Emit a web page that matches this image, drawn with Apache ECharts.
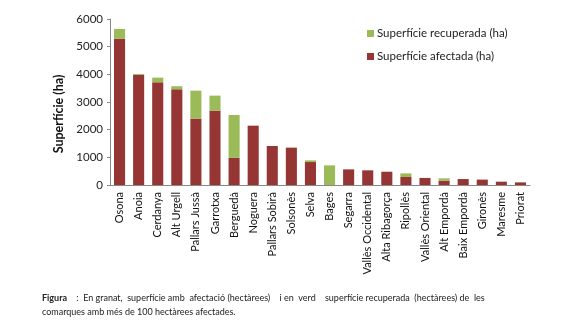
<!DOCTYPE html>
<html><head><meta charset="utf-8">
<script src="https://cdn.jsdelivr.net/npm/echarts@6/dist/echarts.min.js"></script>
<style>html,body{margin:0;padding:0;background:#fff}#c{width:580px;height:330px}</style>
</head><body><div id="c"></div>
<script>
const categories = ["Osona","Anoia","Cerdanya","Alt Urgell","Pallars Jussà","Garrotxa","Berguedà","Noguera","Pallars Sobirà","Solsonès","Selva","Bages","Segarra","Vallès Occidental","Alta Ribagorça","Ripollès","Vallès Oriental","Alt Empordà","Baix Empordà","Gironès","Maresme","Priorat"];
const affected = [5280,3980,3710,3460,2400,2690,980,2145,1410,1350,830,0,565,530,480,290,255,155,215,195,120,95];
const recovered = [360,35,170,110,1010,540,1550,0,0,0,60,710,0,0,0,130,0,85,0,0,0,0];
const yTicks = [0,1000,2000,3000,4000,5000,6000];
const FONT = "Lato, 'Open Sans', sans-serif";
const chart = echarts.init(document.getElementById('c'), null, {renderer:'canvas'});
chart.setOption({
  animation:false,
  textStyle:{fontFamily:FONT},
  grid:{left:110,right:50,top:19,bottom:145,containLabel:false},
  legend:{
    orient:'vertical', left:362, top:22, itemWidth:7, itemHeight:7, itemGap:10,
    icon:'rect',
    textStyle:{fontFamily:FONT,fontSize:11.5,color:'#222',padding:[0,0,0,-2],lineHeight:13},
    data:['Superfície recuperada (ha)','Superfície afectada (ha)']
  },
  xAxis:{
    type:'category', data:categories,
    axisLine:{lineStyle:{color:'#888',width:1}},
    axisTick:{show:false},
    axisLabel:{rotate:90,interval:0,fontFamily:FONT,fontSize:11,color:'#111',margin:7}
  },
  yAxis:{
    type:'value', min:yTicks[0], max:yTicks[yTicks.length-1], interval:1000,
    name:'Superfície (ha)', nameLocation:'middle', nameGap:44,
    nameTextStyle:{fontFamily:FONT,fontSize:12.5,fontWeight:'bold',color:'#111',padding:[0,0,0,-24]},
    axisLine:{show:true,lineStyle:{color:'#888',width:1}},
    axisTick:{show:true,length:3,lineStyle:{color:'#888'}},
    splitLine:{show:false},
    axisLabel:{fontFamily:FONT,fontSize:11.5,color:'#222',margin:7,formatter:function(v){return String(v);}}
  },
  series:[
    {name:'Superfície afectada (ha)',type:'bar',stack:'s',data:affected,barWidth:'58%',itemStyle:{color:'#963634'}},
    {name:'Superfície recuperada (ha)',type:'bar',stack:'s',data:recovered,barWidth:'58%',itemStyle:{color:'#9BBB59'}}
  ],
  graphic:[
    {type:'text',left:42,top:294,style:{
      text:'{b|Figura}    :  En granat,  superfície amb  afectació (hectàrees)    i en  verd    superfície recuperada  (hectàrees) de  les',
      fontFamily:FONT,fontSize:9,fill:'#222',
      rich:{b:{fontWeight:'bold',fontFamily:FONT,fontSize:9,fill:'#222'}}}},
    {type:'text',left:42,top:308,style:{text:'comarques amb més de 100 hectàrees afectades.',fontFamily:FONT,fontSize:9,fill:'#222'}}
  ]
});
</script></body></html>
